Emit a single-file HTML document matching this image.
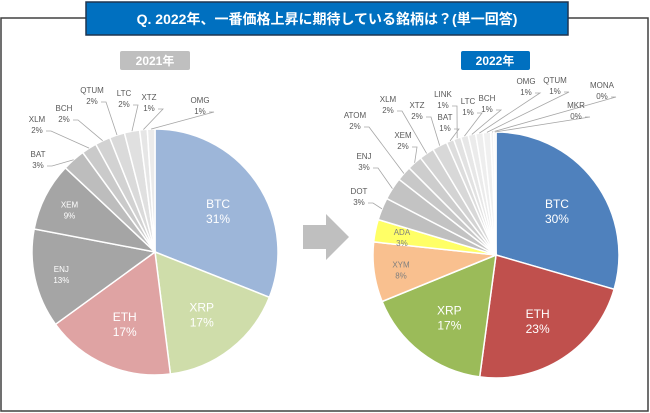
<!DOCTYPE html>
<html><head><meta charset="utf-8"><style>
html,body{margin:0;padding:0;background:#fff;}
body{width:650px;height:413px;position:relative;overflow:hidden;font-family:"Liberation Sans","Noto Sans CJK JP",sans-serif;}
</style></head><body>
<svg width="650" height="413" viewBox="0 0 650 413" style="position:absolute;left:0;top:0">
<rect x="1" y="18" width="647" height="393" fill="#fff" stroke="#404040" stroke-width="1.5"/>
<rect x="86" y="2" width="482" height="33" fill="#0070c0" stroke="#1f3550" stroke-width="1.5"/>
<text x="327" y="24" text-anchor="middle" fill="#fff" font-size="14" font-weight="bold" font-family="Liberation Sans,Noto Sans CJK JP,sans-serif">Q. 2022年、一番価格上昇に期待している銘柄は？(単一回答)</text>
<rect x="120" y="51" width="70" height="19" rx="2" fill="#bfbfbf"/>
<text x="155" y="65" text-anchor="middle" fill="#fff" font-size="12" font-weight="bold">2021年</text>
<rect x="461" y="51" width="69" height="19" rx="2" fill="#0070c0"/>
<text x="495" y="65" text-anchor="middle" fill="#fff" font-size="12" font-weight="bold">2022年</text>
<polygon points="303,225 326,225 326,214 349,237 326,260 326,249 303,249" fill="#bfbfbf"/>
<g id="pie1"></g>
<g id="pie2"></g>
</svg>
<script>
const cats2021 = ["BTC","XRP","ETH","ENJ","XEM","BAT","XLM","BCH","QTUM","LTC","XTZ","OMG"];
const vals2021 = [31,17,17,13,9,3,2,2,2,2,1,1];
const labels2021 = ["31%","17%","17%","13%","9%","3%","2%","2%","2%","2%","1%","1%"];
const cats2022 = ["BTC","ETH","XRP","XYM","ADA","DOT","ENJ","ATOM","XEM","XLM","XTZ","BAT","LINK","LTC","BCH","OMG","QTUM","MONA","MKR"];
const vals2022 = [30,23,17,8,3,3,3,2,2,2,2,1,1,1,1,1,1,0.4,0.3];
const labels2022 = ["30%","23%","17%","8%","3%","3%","3%","2%","2%","2%","2%","1%","1%","1%","1%","1%","1%","0%","0%"];
const colors2021 = ["#9db6d9","#cfddaa","#dfa3a3","#a5a5a5","#a5a5a5","#bdbdbd","#cacaca","#d2d2d2","#dadada","#e0e0e0","#e6e6e6","#ebebeb"];
const colors2022 = ["#4f81bd","#c0504d","#9bbb59","#f9c08f","#ffff66","#bfbfbf","#c3c3c3","#c8c8c8","#cdcdcd","#d3d3d3","#d8d8d8","#dddddd","#e2e2e2","#e7e7e7","#ebebeb","#eeeeee","#f0f0f0","#f3f3f3","#f5f5f5"];
// label layout (text anchor positions; null = inside slice)
const layout2021 = [null,null,null,null,null,[38,157],[37,122],[64,111],[92,93],[124,96],[149,100],[200,103]];
const layout2022 = [null,null,null,null,null,[359,194],[364,159],[355,118],[403,138],[388,102],[417,108],[445,120],[443,97],[468,104],[487,101],[526,84],[555,83],[602,88],[576,108]];
const NS="http://www.w3.org/2000/svg";
function mk(parent,tag,attrs){const e=document.createElementNS(NS,tag);for(const k in attrs)e.setAttribute(k,attrs[k]);parent.appendChild(e);return e;}
function drawPie(gid,cx,cy,r,cats,vals,labs,colors,layout,bigIdx){
  const g=document.getElementById(gid);
  const total=vals.reduce((a,b)=>a+b,0);
  let a0=-Math.PI/2;
  vals.forEach((v,i)=>{
    const a1=a0+v/total*2*Math.PI;
    const x0=cx+r*Math.cos(a0),y0=cy+r*Math.sin(a0),x1=cx+r*Math.cos(a1),y1=cy+r*Math.sin(a1);
    const large=(a1-a0)>Math.PI?1:0;
    const p=mk(g,'path',{d:`M${cx},${cy} L${x0},${y0} A${r},${r} 0 ${large} 1 ${x1},${y1} Z`,fill:colors[i],stroke:'#fff','stroke-width':1.5});
    
    
    const am=(a0+a1)/2;
    const big=i<bigIdx;
    if(!layout[i]){
      const rr=r*(big?0.62:0.78);
      const tx=cx+rr*Math.cos(am),ty=cy+rr*Math.sin(am);
      const fs=big?12:8;
      const fc=big?'#fff':(colors[i]==='#ffff66'||colors[i]==='#f9c08f'?'#7f7f7f':'#fff');
      const t1=mk(g,'text',{x:tx,y:ty-1,'text-anchor':'middle','font-size':fs,fill:fc});
      t1.textContent=cats[i];
      
      
      const t2=mk(g,'text',{x:tx,y:ty+fs+2,'text-anchor':'middle','font-size':fs,fill:fc});
      t2.textContent=labs[i];
      
      
    } else {
      const [lx,ly]=layout[i];
      const ex=cx+r*Math.cos(am),ey=cy+r*Math.sin(am);
      const ln=mk(g,'polyline',{points:`${lx+9},${ly+9} ${lx+14},${ly+9} ${ex},${ey}`,fill:'none',stroke:'#a6a6a6','stroke-width':0.8});
      
      
      const t1=mk(g,'text',{x:lx,y:ly,'text-anchor':'middle','font-size':8,fill:'#595959'});
      t1.textContent=cats[i];
      
      
      const t2=mk(g,'text',{x:lx,y:ly+11,'text-anchor':'middle','font-size':8,fill:'#595959'});
      t2.textContent=labs[i];
      
      
    }
    a0=a1;
  });
}
drawPie('pie1',155,252,123,cats2021,vals2021,labels2021,colors2021,layout2021,3);
drawPie('pie2',496,255,123,cats2022,vals2022,labels2022,colors2022,layout2022,3);
</script>
</body></html>
